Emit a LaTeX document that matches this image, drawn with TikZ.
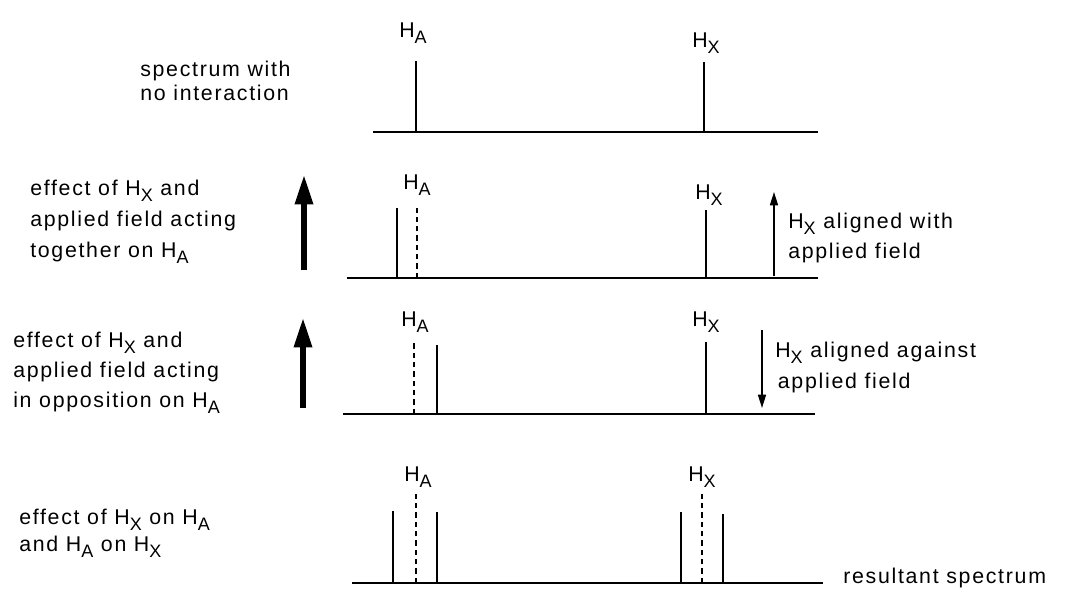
\documentclass[tikz,border=0pt]{standalone}
\usepackage{fontspec}
\setmainfont{Liberation Sans}[LetterSpace=8]
\usetikzlibrary{arrows.meta}
% lowered subscript for the proton labels
\newcommand{\sbs}[1]{\raisebox{-4.5pt}{\fontsize{13.5pt}{13.5pt}\selectfont #1}}
\begin{document}
\begin{tikzpicture}[x=0.75pt,y=-0.75pt,
  txt/.style={inner sep=0pt,anchor=base west,align=left},
  lbl/.style={inner sep=0pt,anchor=base west,font=\fontsize{16pt}{18pt}\selectfont},
  axis/.style={line width=2pt},
  peak/.style={line width=1.6pt},
  ghost/.style={line width=1.3pt,dash pattern=on 4pt off 3pt},
  field/.style={line width=4pt,-{Triangle[length=22pt,width=13pt]}},
  spin/.style={line width=1.2pt,-{Triangle[length=10pt,width=6pt]}}]
\useasboundingbox (0,0) rectangle (1065,589);

% ---------- row 1: no coupling ----------
\coordinate (b1l) at (373,132); \coordinate (b1r) at (818,132);
\draw[axis] (b1l) -- (b1r);
\coordinate (a1t) at (416,61);  \coordinate (a1b) at (416,132);
\coordinate (x1t) at (704,62);  \coordinate (x1b) at (704,132);
\draw[peak] (a1b) -- (a1t);
\draw[peak] (x1b) -- (x1t);
\node[lbl] (la1) at (399,37) {H\sbs{A}};
\node[lbl] (lx1) at (692,47) {H\sbs{X}};
% multi-line nodes are anchored at the baseline of their last line
\node[txt,font=\fontsize{16pt}{17.5pt}\selectfont] (t1) at (140,100)
  {spectrum with\\no interaction};

% ---------- row 2: H_X parallel to field ----------
\coordinate (b2l) at (347,278); \coordinate (b2r) at (818,278);
\draw[axis] (b2l) -- (b2r);
\coordinate (a2t) at (397,208); \coordinate (a2b) at (397,278);
\coordinate (d2t) at (417,208); \coordinate (d2b) at (417,278);
\coordinate (x2t) at (706,210); \coordinate (x2b) at (706,278);
\draw[peak] (a2b) -- (a2t);
\draw[ghost] (d2b) -- (d2t);
\draw[peak] (x2b) -- (x2t);
\node[lbl] (la2) at (403,189) {H\sbs{A}};
\node[lbl] (lx2) at (695,199) {H\sbs{X}};
\coordinate (f2b) at (304,270); \coordinate (f2t) at (304,175);
\draw[field] (f2b) -- (f2t);
\coordinate (s2b) at (774,276); \coordinate (s2t) at (774,192);
\draw[spin] (s2b) -- (s2t);
\node[txt,font=\fontsize{16pt}{23pt}\selectfont] (t2) at (30,257)
  {effect of H\sbs{X} and\\applied field acting\\together on H\sbs{A}};
\node[txt,font=\fontsize{16pt}{22.5pt}\selectfont] (r2) at (788,258)
  {H\sbs{X} aligned with\\applied field};

% ---------- row 3: H_X opposed to field ----------
\coordinate (b3l) at (343,414); \coordinate (b3r) at (815,414);
\draw[axis] (b3l) -- (b3r);
\coordinate (d3t) at (414,343); \coordinate (d3b) at (414,414);
\coordinate (a3t) at (437,345); \coordinate (a3b) at (437,414);
\coordinate (x3t) at (706,342); \coordinate (x3b) at (706,414);
\draw[ghost] (d3b) -- (d3t);
\draw[peak] (a3b) -- (a3t);
\draw[peak] (x3b) -- (x3t);
\node[lbl] (la3) at (401,326) {H\sbs{A}};
\node[lbl] (lx3) at (692,326) {H\sbs{X}};
\coordinate (f3b) at (303,408); \coordinate (f3t) at (303,318);
\draw[field] (f3b) -- (f3t);
\coordinate (s3t) at (762,330); \coordinate (s3b) at (762,408);
\draw[spin] (s3t) -- (s3b);
\node[txt,font=\fontsize{16pt}{22.5pt}\selectfont] (t3) at (13,407)
  {effect of H\sbs{X} and\\applied field acting\\in opposition on H\sbs{A}};
\node[txt,font=\fontsize{16pt}{23pt}\selectfont] (r3) at (775,388)
  {H\sbs{X} aligned against\\\hspace*{2pt}applied field};

% ---------- row 4: resulting doublets ----------
\coordinate (b4l) at (352,583); \coordinate (b4r) at (823,583);
\draw[axis] (b4l) -- (b4r);
\coordinate (a4t) at (393,511); \coordinate (a4b) at (393,583);
\coordinate (d4t) at (416,491); \coordinate (d4b) at (416,583);
\coordinate (c4t) at (437,512); \coordinate (c4b) at (437,583);
\coordinate (x4t) at (681,512); \coordinate (x4b) at (681,583);
\coordinate (e4t) at (702,493); \coordinate (e4b) at (702,583);
\coordinate (y4t) at (723,514); \coordinate (y4b) at (723,583);
\draw[peak] (a4b) -- (a4t);
\draw[ghost] (d4b) -- (d4t);
\draw[peak] (c4b) -- (c4t);
\draw[peak] (x4b) -- (x4t);
\draw[ghost] (e4b) -- (e4t);
\draw[peak] (y4b) -- (y4t);
\node[lbl] (la4) at (404,481) {H\sbs{A}};
\node[lbl] (lx4) at (688,481) {H\sbs{X}};
\node[txt,font=\fontsize{16pt}{20pt}\selectfont] (t4) at (19,551)
  {effect of H\sbs{X} on H\sbs{A}\\and H\sbs{A} on H\sbs{X}};
\node[txt,font=\fontsize{16pt}{18pt}\selectfont] (res) at (843,583)
  {resultant spectrum};
\end{tikzpicture}
\end{document}
